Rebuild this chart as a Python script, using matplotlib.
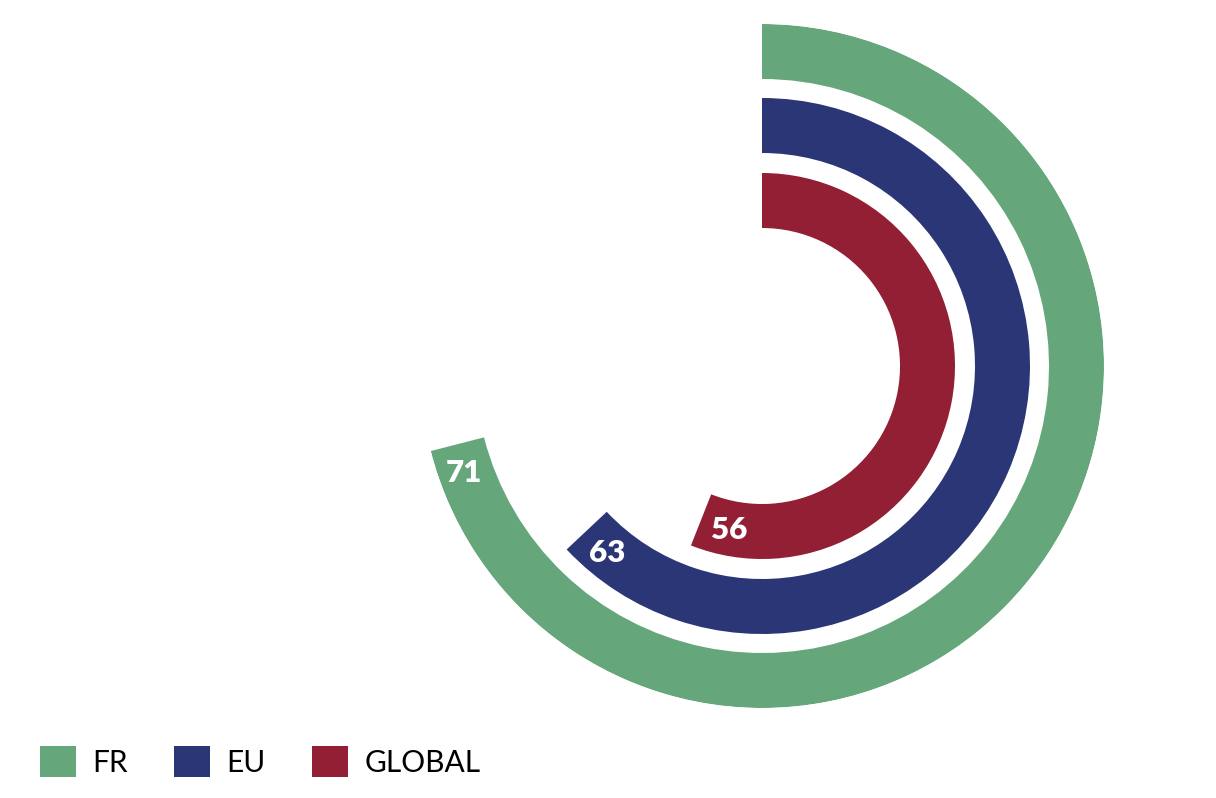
import numpy as np
import matplotlib
matplotlib.use('Agg')
import matplotlib.pyplot as plt
from matplotlib.patches import Patch

# data
regions = ['FR', 'EU', 'GLOBAL']
values = [71, 63, 56]
colors = ['#65A77B', '#2A3676', '#921F33']

# ring layout (pixels-ish units, rmax = 342)
inner = [287, 213, 138]
ring_w = 55

fig = plt.figure(figsize=(12.16, 7.98), dpi=100)
ax = fig.add_axes([420 / 1216, 90 / 798, 684 / 1216, 684 / 798], projection='polar')
ax.set_theta_zero_location('N')
ax.set_theta_direction(-1)
ax.set_ylim(0, 342)
ax.axis('off')

for v, b, c in zip(values, inner, colors):
    span = 2 * np.pi * v / 100
    ax.bar(0, ring_w, width=span, bottom=b, align='edge', color=c, edgecolor='none')
    r = b + ring_w / 2 + 2
    th = span - 30 / r
    ax.text(th, r, str(v), color='white', fontsize=22.5, fontweight='heavy',
            family=['Lato', 'DejaVu Sans'], ha='center', va='center')

handles = [Patch(facecolor=c, edgecolor='none') for c in colors]
fig.legend(handles, regions, loc='lower left', bbox_to_anchor=(40 / 1216, 21 / 798),
           ncol=3, frameon=False, prop={'family': ['Lato', 'DejaVu Sans'], 'size': 21.5},
           handlelength=1.2, handleheight=1.2, handletextpad=0.55, columnspacing=1.55,
           borderpad=0, borderaxespad=0)

fig.savefig('out.png', dpi=100, facecolor='white')
